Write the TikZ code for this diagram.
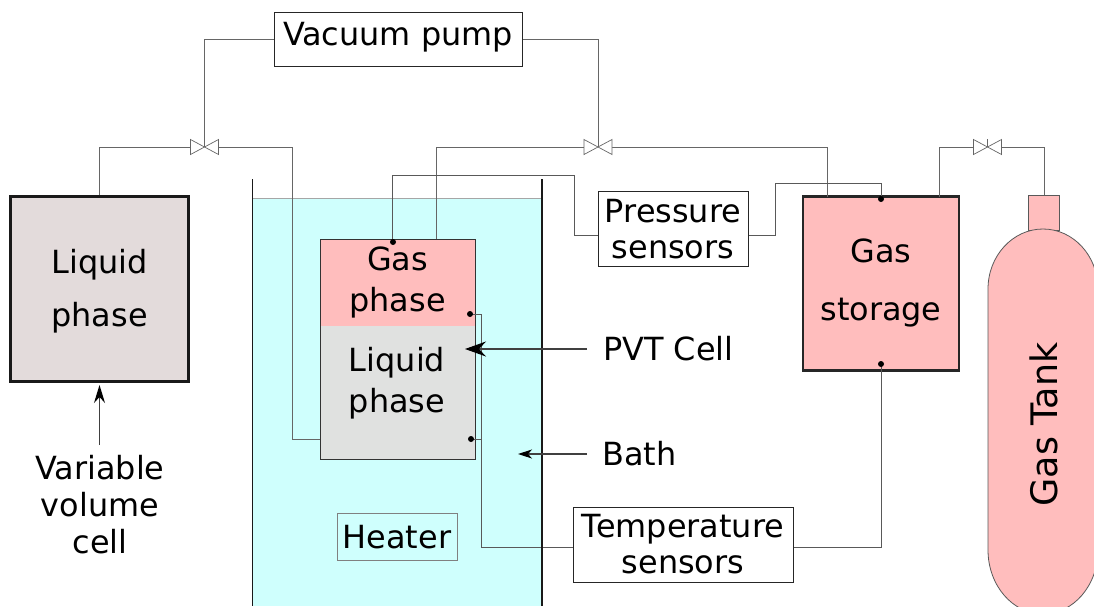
\documentclass[tikz,border=0pt]{standalone}
\usepackage{fontspec}
\setmainfont{DejaVu Sans}
\usetikzlibrary{calc, positioning, arrows.meta}
\definecolor{bathC}{RGB}{207, 255, 253}
\definecolor{gasC}{RGB}{255, 189, 189}
\definecolor{liqC}{RGB}{224, 225, 224}
\definecolor{cylC}{RGB}{227, 219, 219}
\tikzset{
  label/.style={font=\fontsize{31.9}{37}\selectfont, align=center, text=black, inner sep=0pt},
  pipe/.style={draw=black!60, line width=0.9pt},
  wire/.style={draw=black!65, line width=0.9pt},
  sensorbox/.style={draw=black!85, line width=1pt, fill=white, align=center, font=\fontsize{31.9}{36}\selectfont, inner sep=0pt},
  dotmark/.style={circle, fill=black, inner sep=0pt, minimum size=6pt},
  valve/.style={draw=black!60, line width=0.7pt, fill=white},
  pointer/.style={draw=black!75, line width=1.1pt, -{Stealth[length=21pt,width=15pt,inset=7pt,black]}},
}
\begin{document}
\begin{tikzpicture}[x=1pt, y=-1pt]
  \useasboundingbox (0,0) rectangle (1094,606);
  % Bath
  \fill[bathC] (253,198) rectangle (542,606);
  \draw[black!35, line width=1pt] (253,198) -- (542,198);

  % PVT cell
  \fill[gasC] (320,239) rectangle (475,326);
  \fill[liqC] (320,326) rectangle (475,459);
  \draw[black!80, line width=1pt] (320,239) rectangle (475,459);
  \coordinate (cellgas) at (392.5,242);
  \coordinate (celltop) at (436,239);
  \coordinate (cellleft) at (320,439);

  % Variable volume cell
  \node[draw=black!90, line width=3pt, fill=cylC, minimum width=178pt, minimum height=185pt, inner sep=0pt] (liquid) at (99.5,289) {};
  % Gas storage
  \node[draw=black!85, line width=2.4pt, fill=gasC, minimum width=155.5pt, minimum height=174pt, inner sep=0pt] (storage) at (881,283.5) {};
  % Gas tank
  \fill[gasC, draw=black!65, line width=0.8pt] (1028,195) rectangle (1059,230);
  \fill[gasC, draw=black!65, line width=0.8pt] (988,550) -- (988,289) arc[start angle=180, end angle=0, x radius=55, y radius=-60] -- (1098,550) arc[start angle=0, end angle=-180, x radius=55, y radius=-64] -- cycle;
  \coordinate (tankneck) at (1044,195);

  % Boxes
  \node[sensorbox, minimum width=248pt, minimum height=54pt] (pump) at (398,39) {\raisebox{-6pt}[0pt][0pt]{Vacuum pump}};
  \node[sensorbox, minimum width=150pt, minimum height=75pt] (pressure) at (673,229) {Pressure\\sensors};
  \node[sensorbox, minimum width=220pt, minimum height=75pt] (temp) at (683,544.5) {Temperature\\sensors};
  \node[draw=black!50, line width=0.7pt, minimum width=120pt, minimum height=47pt, inner sep=0pt, font=\fontsize{31.9}{37}\selectfont] (heater) at (397,537) {Heater};

  % Valves
  \foreach \name/\vx in {valveA/204.5, valveB/598, valveC/987.5} {
    \coordinate (\name) at (\vx,147);
    \coordinate (\name L) at (\vx-14,147);
    \coordinate (\name R) at (\vx+14,147);
  }

  % Pipes
  \draw[pipe] (pump.west) -| (valveA);
  \draw[pipe] (pump.east) -| (valveB);
  \draw[pipe] (liquid.north) |- (valveAL);
  \draw[pipe] (cellleft) -| (292,147) -- (valveAR);
  \draw[pipe] (celltop) |- (valveBL);
  \draw[pipe] (827,197) |- (valveBR);
  \draw[pipe] (939,197) |- (valveCL);
  \draw[pipe] (tankneck) |- (valveCR);

  % Sensor wires
  \draw[wire] (cellgas) -- (392.5,175) -- (574,175) -- (574,235) -- (pressure.west |- 0,235);
  \draw[wire] (pressure.east |- 0,235) -- (775,235) -- (775,183) -- (881,183) -- (881,199);
  \draw[wire] (470,314) -- (481,314) -- (481,547) -- (temp.west |- 0,547);
  \draw[wire] (471,439) -- (481,439);
  \draw[wire] (temp.east |- 0,547) -- (881,547) -- (881,364);

  % Valve symbols
  \foreach \name in {valveA, valveB, valveC} {
    \draw[valve] ($(\name)+(-14,-7.5)$) -- ($(\name)+(14,7.5)$) -- ($(\name)+(14,-7.5)$) -- ($(\name)+(-14,7.5)$) -- cycle;
    \draw[valve] (\name) -- ($(\name)+(0,-8)$);
  }

  % Bath walls
  \draw[black!90, line width=1.6pt] (252.5,179) -- (252.5,606);
  \draw[black!90, line width=1.6pt] (542,179) -- (542,606);

  % Sensor points
  \node[dotmark] (d1) at (393,242) {};
  \node[dotmark] (d2) at (470,314) {};
  \node[dotmark] (d3) at (471,439) {};
  \node[dotmark] (d4) at (881,199) {};
  \node[dotmark] (d5) at (881,364) {};

  % Labels
  \node[label] (liqlab) at (99.5,291) {Liquid\\[16pt]phase};
  \node[label, font=\fontsize{31.9}{41}\selectfont] (gaslab) at (397.5,282) {Gas\\phase};
  \node[label, font=\fontsize{31.9}{41}\selectfont] (liq2lab) at (397,383) {Liquid\\phase};
  \node[label] (storlab) at (881,283) {Gas\\[21pt]storage};
  \node[label, rotate=90, font=\fontsize{36.5}{40}\selectfont] (tanklab) at (1044,424.5) {Gas Tank};
  \node[label] (varlab) at (100,505) {Variable\\volume\\cell};
  \node[label, anchor=west] (pvtlab) at (603,349) {PVT Cell};
  \node[label, anchor=west] (bathlab) at (602,454) {Bath};

  % Pointers
  \coordinate (varptr) at (99.5,445);
  \draw[pointer, -{Stealth[length=18pt,width=11pt,inset=6pt,black]}] (varptr) -- (99.5,385);
  \draw[pointer] (587,349) -- (465,349);
  \draw[pointer, -{Stealth[length=14pt,width=9pt,inset=4pt,black]}] (587,454) -- (518,454);
\end{tikzpicture}
\end{document}
